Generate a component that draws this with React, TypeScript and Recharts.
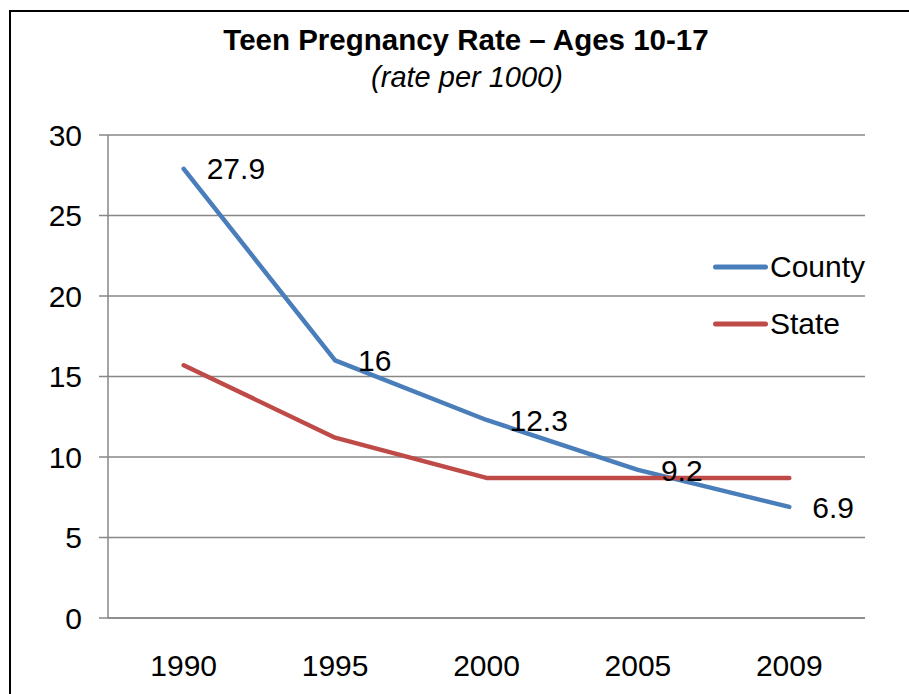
import React from 'react';
import { LineChart, Line, XAxis, YAxis, CartesianGrid, LabelList } from 'recharts';

const categories = ['1990', '1995', '2000', '2005', '2009'];
const countyRates = [27.9, 16, 12.3, 9.2, 6.9];
const stateRates = [15.7, 11.2, 8.7, 8.7, 8.7];
const yTicks = [0, 5, 10, 15, 20, 25, 30];
const seriesNames = ['County', 'State'];

const titleText = 'Teen Pregnancy Rate \u2013 Ages 10-17';
const subtitleText = '(rate per 1000)';

const FONT = '"Liberation Sans", Arial, sans-serif';
const GRID = '#878787';
const COLORS: Record<string, string> = { County: '#4A7EBB', State: '#BE4B48' };

const data = categories.map((c, i) => ({
  pos: i + 0.5,
  year: c,
  County: countyRates[i],
  State: stateRates[i],
}));
const boundaryTicks = [...categories.map((_, i) => i), categories.length];
const centerTicks = categories.map((_, i) => i + 0.5);

function LegendBox() {
  return (
    <div
      style={{
        position: 'absolute',
        left: 712,
        top: 238,
        width: 190,
        fontFamily: FONT,
      }}
    >
      {seriesNames.map((name) => (
        <div key={name} style={{ display: 'flex', alignItems: 'center', height: 57 }}>
          <svg width={58} height={10} style={{ display: 'block' }}>
            <line
              x1={3.5}
              y1={5}
              x2={53.5}
              y2={5}
              stroke={COLORS[name]}
              strokeWidth={5}
              strokeLinecap="round"
            />
          </svg>
          <span style={{ fontSize: 30, color: '#000', lineHeight: 1 }}>{name}</span>
        </div>
      ))}
    </div>
  );
}

export default function App() {
  return (
    <div
      style={{
        position: 'absolute',
        left: 0,
        top: 0,
        width: 909,
        height: 694,
        overflow: 'hidden',
        background: '#fff',
      }}
    >
      <style>{'html,body{overflow:hidden;}'}</style>
      <div
        style={{
          position: 'absolute',
          left: 9,
          top: 10,
          width: 960,
          height: 760,
          borderLeft: '2px solid #000',
          borderTop: '2px solid #000',
        }}
      />
      <div style={{ position: 'absolute', left: 0, top: 0 }}>
        <LineChart
          width={909}
          height={694}
          data={data}
          margin={{ top: 135, right: 44, left: 48, bottom: 0 }}
        >
          <CartesianGrid
            xAxisId="bounds"
            vertical={false}
            stroke={GRID}
            strokeWidth={1.5}
          />
          <XAxis
            xAxisId="bounds"
            type="number"
            dataKey="pos"
            domain={[0, categories.length]}
            ticks={boundaryTicks}
            tick={false}
            tickSize={9}
            height={9}
            axisLine={{ stroke: GRID, strokeWidth: 1.5 }}
            tickLine={{ stroke: GRID, strokeWidth: 1.5 }}
            allowDataOverflow
          />
          <XAxis
            xAxisId="labels"
            type="number"
            dataKey="pos"
            domain={[0, categories.length]}
            ticks={centerTicks}
            interval={0}
            tickFormatter={(v: number) => categories[Math.floor(v)]}
            axisLine={false}
            tickLine={false}
            tickSize={0}
            tickMargin={28}
            height={67}
            tick={{ fill: '#000', fontSize: 30, fontFamily: FONT }}
          />
          <YAxis
            type="number"
            domain={[0, 30]}
            ticks={yTicks}
            interval={0}
            width={60}
            tickSize={9}
            tickMargin={17}
            axisLine={{ stroke: GRID, strokeWidth: 1.5 }}
            tickLine={{ stroke: GRID, strokeWidth: 1.5 }}
            tick={{ fill: '#000', fontSize: 30, fontFamily: FONT }}
          />
          <Line
            xAxisId="bounds"
            type="linear"
            dataKey="County"
            stroke={COLORS.County}
            strokeWidth={4.5}
            strokeLinecap="round"
            strokeLinejoin="round"
            dot={false}
            activeDot={false}
            isAnimationActive={false}
          >
            <LabelList
              dataKey="County"
              position="right"
              offset={23}
              fill="#000"
              fontSize={30}
              fontFamily={FONT}
            />
          </Line>
          <Line
            xAxisId="bounds"
            type="linear"
            dataKey="State"
            stroke={COLORS.State}
            strokeWidth={4.5}
            strokeLinecap="round"
            strokeLinejoin="round"
            dot={false}
            activeDot={false}
            isAnimationActive={false}
          />
        </LineChart>
      </div>
      <LegendBox />
      <svg
        width={909}
        height={694}
        style={{ position: 'absolute', left: 0, top: 0, pointerEvents: 'none' }}
      >
        <text
          x={466}
          y={50}
          textAnchor="middle"
          fontFamily={FONT}
          fontSize={29.5}
          fontWeight="bold"
          fill="#000"
        >
          {titleText}
        </text>
        <text
          x={467}
          y={87}
          textAnchor="middle"
          fontFamily={FONT}
          fontSize={29}
          fontStyle="italic"
          fill="#000"
        >
          {subtitleText}
        </text>
      </svg>
    </div>
  );
}
